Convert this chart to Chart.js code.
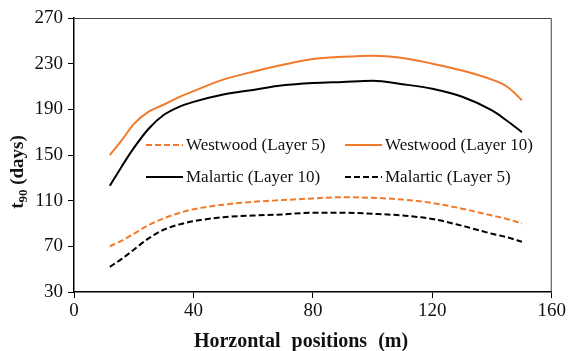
<!DOCTYPE html>
<html>
<head>
<meta charset="utf-8">
<script src="https://cdn.jsdelivr.net/npm/chart.js@4.4.1/dist/chart.umd.min.js"></script>
<style>
  html, body { margin: 0; padding: 0; background: #fff; }
  #wrap { width: 568px; height: 351px; position: relative; }
</style>
</head>
<body>
<div id="wrap"><canvas id="t90Chart"></canvas></div>
<script>
// horizontal positions (m)
const positions = [12, 16, 20, 25, 30, 35, 40, 50, 60, 70, 80, 90, 100, 110, 120, 130, 140, 145, 150];

// t90 values (days)
const westwood5  = [70, 75, 81, 88.5, 94.5, 99, 102.5, 106.5, 109, 110.5, 112, 113, 112.5, 111, 108, 103, 97, 94, 90];
const westwood10 = [150, 163, 177, 188, 194, 200.5, 206, 216, 223, 229, 234, 236, 237, 235, 230, 224, 216, 210, 198];
const malartic10 = [123, 140, 156, 173, 185, 192, 196.5, 203, 207, 211, 213, 214, 215, 212, 208, 201, 189, 180, 170];
const malartic5  = [52, 59, 67, 77, 84.5, 89, 92, 95.5, 97, 98, 99.5, 99.5, 98.5, 97, 94, 88, 81, 78, 74];

const seriesNames = ["Westwood (Layer 5)", "Westwood (Layer 10)", "Malartic (Layer 10)", "Malartic (Layer 5)"];
const yTicks = [30, 70, 110, 150, 190, 230, 270];
const xTicks = [0, 40, 80, 120, 160];

const ORANGE = "#f07a2a";
const serif = "'Liberation Serif', 'Times New Roman', serif";

function pts(vals) {
  return positions.map((x, i) => ({ x: x, y: vals[i] }));
}

function ds(label, vals, color, dashed) {
  return {
    label: label,
    data: pts(vals),
    borderColor: color,
    backgroundColor: color,
    borderWidth: 2,
    borderDash: dashed ? [6, 3] : [],
    pointRadius: 0,
    showLine: true,
    cubicInterpolationMode: "monotone"
  };
}

// frame, legend and axis titles
const extras = {
  id: "extras",
  afterDraw(chart) {
    const ctx = chart.ctx;
    const a = chart.chartArea;
    ctx.save();
    // top + right frame
    ctx.strokeStyle = "#444";
    ctx.lineWidth = 1;
    ctx.beginPath();
    ctx.moveTo(a.left, a.top + 0.5);
    ctx.lineTo(a.right - 0.5, a.top + 0.5);
    ctx.lineTo(a.right - 0.5, a.bottom);
    ctx.stroke();

    // legend (two columns inside plot)
    const spots = [[146, 145], [345, 145], [146, 177], [345, 177]];
    ctx.font = "17px " + serif;
    ctx.textBaseline = "middle";
    ctx.fillStyle = "#111";
    chart.data.datasets.forEach((d, i) => {
      const [lx, ly] = spots[i];
      ctx.strokeStyle = d.borderColor;
      ctx.lineWidth = 2;
      ctx.setLineDash(d.borderDash);
      ctx.beginPath();
      ctx.moveTo(lx, ly);
      ctx.lineTo(lx + 37, ly);
      ctx.stroke();
      ctx.setLineDash([]);
      ctx.fillText(d.label, lx + 40, ly + 1);
    });

    // x title
    ctx.font = "bold 20px " + serif;
    ctx.textAlign = "center";
    ctx.textBaseline = "alphabetic";
    if ("wordSpacing" in ctx) ctx.wordSpacing = "6px";
    ctx.fillText("Horzontal positions (m)", 301, 347);
    if ("wordSpacing" in ctx) ctx.wordSpacing = "0px";

    // y title with subscript
    ctx.translate(23, 172);
    ctx.rotate(-Math.PI / 2);
    ctx.textAlign = "left";
    const main = "t";
    const sub = "90";
    const rest = " (days)";
    ctx.font = "bold 19px " + serif;
    const w1 = ctx.measureText(main).width;
    const w3 = ctx.measureText(rest).width;
    ctx.font = "bold 13px " + serif;
    const w2 = ctx.measureText(sub).width;
    let x0 = -(w1 + w2 + w3) / 2;
    ctx.font = "bold 19px " + serif;
    ctx.fillText(main, x0, 0);
    ctx.font = "bold 13px " + serif;
    ctx.fillText(sub, x0 + w1, 4);
    ctx.font = "bold 19px " + serif;
    ctx.fillText(rest, x0 + w1 + w2, 0);
    ctx.restore();
  }
};

new Chart(document.getElementById("t90Chart"), {
  type: "scatter",
  data: {
    datasets: [
      ds(seriesNames[0], westwood5, ORANGE, true),
      ds(seriesNames[1], westwood10, ORANGE, false),
      ds(seriesNames[2], malartic10, "#000", false),
      ds(seriesNames[3], malartic5, "#000", true)
    ]
  },
  options: {
    responsive: true,
    maintainAspectRatio: false,
    animation: false,
    layout: { padding: { top: 18, right: 15, left: 0, bottom: 0 } },
    plugins: {
      legend: { display: false },
      tooltip: { enabled: false }
    },
    scales: {
      x: {
        type: "linear",
        min: 0,
        max: 160,
        afterBuildTicks(s) { s.ticks = xTicks.map(v => ({ value: v })); },
        afterFit(s) { s.height = 59; },
        grid: { drawOnChartArea: false, drawTicks: true, tickLength: 6, color: "#000" },
        border: { color: "#000", width: 1.5 },
        ticks: { color: "#111", padding: 2, font: { family: serif, size: 19 } }
      },
      y: {
        type: "linear",
        min: 30,
        max: 270,
        afterBuildTicks(s) { s.ticks = yTicks.map(v => ({ value: v })); },
        afterFit(s) { s.width = 74; },
        grid: { drawOnChartArea: false, drawTicks: true, tickLength: 6, color: "#000" },
        border: { color: "#000", width: 1.5 },
        ticks: { color: "#111", padding: 5, font: { family: serif, size: 19 } }
      }
    }
  },
  plugins: [extras]
});
</script>
</body>
</html>
